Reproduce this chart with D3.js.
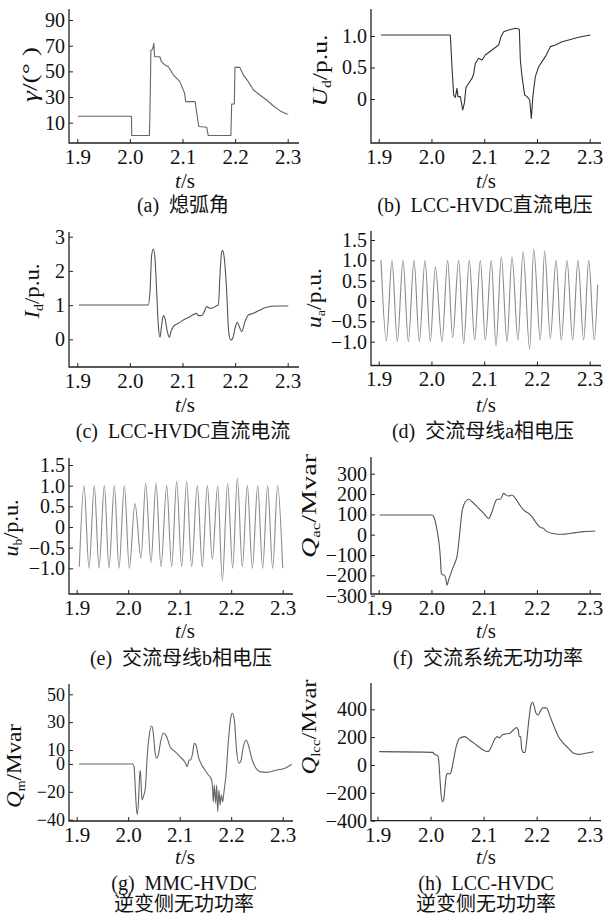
<!DOCTYPE html>
<html>
<head>
<meta charset="utf-8">
<script src="https://cdn.jsdelivr.net/npm/d3@7"></script>
<style>
  body { margin: 0; background: #fff; }
  svg { display: block; }
  text { font-family: "Liberation Serif", "Noto Sans CJK SC", serif; fill: #111; }
</style>
</head>
<body>
<svg id="chart" width="604" height="920"></svg>
<script>
'use strict';

var xTicks = [1.9, 2.0, 2.1, 2.2, 2.3];

// (a) extinction angle
var gammaT = [1.901, 2.003, 2.0035, 2.037, 2.038, 2.040, 2.043, 2.0455, 2.047, 2.057, 2.060, 2.067, 2.073, 2.083, 2.095, 2.104, 2.106, 2.124, 2.131, 2.146, 2.149, 2.192, 2.1935, 2.1985, 2.1998, 2.209, 2.216, 2.225, 2.235, 2.247, 2.260, 2.273, 2.285, 2.298, 2.301];
var gammaV = [15, 15, 0, 0, 15, 66.6, 67, 71.8, 61.4, 61.4, 57.5, 54.9, 53.6, 47.1, 42, 33, 26.4, 26.4, 7, 6.5, 0, 0, 24.6, 24.6, 53.1, 53.1, 47, 42, 35.5, 31.6, 27.7, 23, 19.4, 16.8, 16.8];
var gammaTicks = [10, 30, 50, 70, 90];

// (b) LCC dc voltage
var udT = [1.9044, 2.0358, 2.0389, 2.0421, 2.0452, 2.0484, 2.0503, 2.0548, 2.0592, 2.0623, 2.0655, 2.0706, 2.0769, 2.0800, 2.0832, 2.0895, 2.0958, 2.1021, 2.1148, 2.1274, 2.1318, 2.1369, 2.1464, 2.1590, 2.1666, 2.1685, 2.1717, 2.1767, 2.1812, 2.1862, 2.1893, 2.1925, 2.1969, 2.2033, 2.2096, 2.2159, 2.2254, 2.2349, 2.2475, 2.2601, 2.2791, 2.3012];
var udV = [1.016, 1.016, 0.513, 0.063, 0.026, 0.169, 0.037, 0.037, -0.175, -0.069, 0.185, 0.249, 0.328, 0.397, 0.566, 0.646, 0.619, 0.698, 0.778, 0.857, 0.989, 1.069, 1.095, 1.122, 1.106, 0.619, 0.354, 0.063, 0.037, -0.016, -0.307, 0.063, 0.354, 0.513, 0.593, 0.672, 0.831, 0.857, 0.910, 0.937, 0.979, 1.016];
var udTicks = [0, 0.5, 1.0];

// (c) LCC dc current
var idT = [1.9032, 2.0350, 2.0382, 2.0414, 2.0446, 2.0477, 2.0509, 2.0540, 2.0572, 2.0604, 2.0636, 2.0667, 2.0712, 2.0750, 2.0781, 2.0826, 2.0857, 2.0921, 2.1016, 2.1143, 2.1269, 2.1301, 2.1364, 2.1409, 2.1459, 2.1523, 2.1586, 2.1650, 2.1681, 2.1713, 2.1745, 2.1764, 2.1795, 2.1840, 2.1878, 2.1916, 2.1954, 2.1998, 2.2042, 2.2080, 2.2125, 2.2188, 2.2252, 2.2347, 2.2473, 2.2600, 2.2790, 2.3012];
var idV = [1.003, 1.003, 1.393, 2.465, 2.640, 2.368, 1.393, 0.418, 0.058, 0.418, 0.691, 0.613, 0.223, 0.058, 0.223, 0.369, 0.418, 0.467, 0.564, 0.662, 0.759, 0.691, 0.691, 0.789, 0.954, 0.906, 0.925, 0.983, 1.003, 1.880, 2.562, 2.592, 2.368, 1.393, 0.223, -0.02, 0.028, 0.321, 0.496, 0.369, 0.223, 0.515, 0.711, 0.759, 0.857, 0.935, 0.974, 0.974];
var idTicks = [0, 1, 2, 3];

// (d) ac bus phase a voltage, peaks and troughs
var uaT = [1.9044, 1.9145, 1.9252, 1.9353, 1.9461, 1.9562, 1.9669, 1.9770, 1.9878, 1.9979, 2.0074, 2.0200, 2.0307, 2.0402, 2.0516, 2.0611, 2.0718, 2.0819, 2.0927, 2.1021, 2.1135, 2.1224, 2.1325, 2.1432, 2.1527, 2.1641, 2.1736, 2.1862, 2.1938, 2.2064, 2.2146, 2.2254, 2.2361, 2.2462, 2.2570, 2.2677, 2.2778, 2.2886, 2.2981, 2.3088, 2.3151];
var uaV = [1.0, -0.98, 1.0, -1.0, 1.0, -1.0, 1.0, -1.0, 1.0, -1.0, 0.84, -1.0, 1.0, -0.90, 1.0, -1.04, 1.0, -0.96, 1.0, -0.96, 1.0, -1.10, 1.09, -1.0, 1.09, -0.96, 1.21, -1.18, 1.28, -0.96, 1.23, -0.92, 1.0, -0.96, 1.0, -0.96, 1.0, -0.96, 1.0, -0.96, 0.4];
var uTicks = [-1.0, -0.5, 0, 0.5, 1.0, 1.5];

// (e) ac bus phase b voltage
var ubT = [1.9051, 1.9142, 1.9239, 1.9342, 1.9433, 1.9537, 1.9627, 1.9731, 1.9821, 1.9925, 2.0022, 2.0132, 2.0249, 2.0339, 2.0443, 2.0540, 2.0637, 2.0747, 2.0844, 2.0941, 2.1038, 2.1135, 2.1232, 2.1342, 2.1439, 2.1536, 2.1634, 2.1737, 2.1828, 2.1931, 2.2029, 2.2119, 2.2216, 2.2313, 2.2410, 2.2514, 2.2611, 2.2708, 2.2805, 2.2902, 2.3000];
var ubV = [-0.96, 1.0, -1.0, 1.0, -1.0, 1.0, -1.0, 1.0, -1.0, 1.0, -1.0, 0.57, -0.76, 1.06, -0.86, 1.06, -0.96, 1.0, -0.96, 1.10, -0.96, 1.10, -0.96, 1.0, -0.96, 1.0, -0.78, 0.99, -1.30, 1.06, -1.0, 1.18, -0.96, 1.0, -1.0, 1.0, -1.0, 1.0, -1.0, 1.0, -1.0];

// (f) ac system reactive power
var qacT = [1.9018, 2.0010, 2.0042, 2.0074, 2.0105, 2.0137, 2.0168, 2.0187, 2.0213, 2.0244, 2.0276, 2.0295, 2.0326, 2.0390, 2.0453, 2.0484, 2.0516, 2.0548, 2.0579, 2.0642, 2.0706, 2.0769, 2.0864, 2.0990, 2.1085, 2.1148, 2.1211, 2.1243, 2.1306, 2.1369, 2.1413, 2.1464, 2.1527, 2.1590, 2.1654, 2.1748, 2.1843, 2.1906, 2.1970, 2.2064, 2.2127, 2.2191, 2.2285, 2.2412, 2.2538, 2.2728, 2.2886, 2.3107];
var qacV = [96.7, 96.7, 88.5, 63.9, 23, -26, -108, -190, -198, -198, -223, -248, -223, -174, -133, -108, -43, 39, 113, 162, 174, 162, 138, 105, 80, 113, 162, 174, 174, 203, 195, 190, 195, 179, 154, 121, 105, 88.5, 63.9, 36, 31, 15, 7, 2, 3, 10, 15, 18];
var qacTicks = [-300, -200, -100, 0, 100, 200, 300];

// (g) MMC inverter reactive power
var qmT = [1.9045, 2.0087, 2.0113, 2.0132, 2.0151, 2.0177, 2.0203, 2.0223, 2.0236, 2.0249, 2.0268, 2.0294, 2.0333, 2.0371, 2.0410, 2.0456, 2.0488, 2.0520, 2.0553, 2.0585, 2.0630, 2.0682, 2.0747, 2.0812, 2.0909, 2.1006, 2.1103, 2.1148, 2.1181, 2.1213, 2.1245, 2.1284, 2.1317, 2.1362, 2.1427, 2.1491, 2.1556, 2.1608, 2.1634, 2.1653, 2.1672, 2.1698, 2.1718, 2.1737, 2.1763, 2.1783, 2.1808, 2.1834, 2.1860, 2.1899, 2.1944, 2.1990, 2.2022, 2.2061, 2.2106, 2.2151, 2.2184, 2.2236, 2.2287, 2.2333, 2.2397, 2.2462, 2.2559, 2.2689, 2.2883, 2.3045, 2.3174];
var qmV = [0, 0, -1.9, -12.7, -27.3, -36.4, -24.6, -7.9, -4.8, -12.7, -25.8, -23.4, -17.5, 6.5, 20.8, 27.3, 22, 8.9, 4.1, 6.5, 16, 22, 19.6, 12.4, 8.9, 5.3, 1.2, -1.9, 2.9, 2.9, 6.5, 14.8, 13.6, 5.3, -0.7, -4.3, -7.9, -10.3, -15.1, -27.3, -15.1, -28.2, -15.1, -34.2, -18.7, -29.4, -22.2, -27.3, -19.9, -7.9, 16, 32.8, 36.4, 31.6, 8.9, 0.5, 1.7, 12.4, 17.2, 13.6, 4.1, -1.9, -5.5, -6, -4.3, -3.1, -0.2];
var qmTicks = [-40, -20, 0, 10, 30, 50];

// (h) LCC inverter reactive power
var qlT = [1.9031, 2.0042, 2.0074, 2.0105, 2.0137, 2.0156, 2.0181, 2.0200, 2.0225, 2.0251, 2.0276, 2.0301, 2.0326, 2.0364, 2.0390, 2.0427, 2.0484, 2.0548, 2.0642, 2.0737, 2.0864, 2.0990, 2.1085, 2.1148, 2.1211, 2.1256, 2.1306, 2.1351, 2.1413, 2.1495, 2.1559, 2.1622, 2.1653, 2.1672, 2.1698, 2.1717, 2.1748, 2.1780, 2.1811, 2.1843, 2.1893, 2.1925, 2.1956, 2.1988, 2.2032, 2.2064, 2.2127, 2.2191, 2.2254, 2.2317, 2.2412, 2.2507, 2.2601, 2.2696, 2.2791, 2.2917, 2.3075];
var qlV = [95.8, 91, 76.6, 71.9, 67, 24, -120, -215.6, -263.5, -239.5, -143.7, -71.9, -59.9, -64.7, -47.9, 24, 131.7, 191.6, 203.6, 179.6, 143.7, 107.8, 95.8, 131.7, 186.8, 203.6, 196.4, 215.6, 222.8, 227.5, 251.5, 268.3, 251.5, 203.6, 203.6, 119.8, 91, 91, 167.7, 287.4, 431.1, 450.3, 419.2, 371.3, 359.3, 383.2, 412, 407.2, 347.3, 287.4, 203.6, 155.7, 119.8, 83.8, 76.6, 83.8, 95.8];
var qlTicks = [-400, -200, 0, 200, 400];

var fmtDec = function(d){ return d === 0 ? '0' : d3.format('.1f')(d); };
var fmtInt = d3.format('d');

var svg = d3.select('#chart');

var panels = [
  {t:gammaT, v:gammaV, ticks:gammaTicks, fmt:fmtInt, curve:d3.curveLinear, color:'#666',
   left:69, right:299, top:9, bottom:143, x0:77.3, x1:287.7, ya:[10,122.7], yb:[90,20],
   label:[{s:'γ',i:true},{s:'/(° )'}], lx:30, ly:74.5, llen:55, xl:[185,188],
   cap:['(a)  熄弧角'], cx:183, cy:[212]},
  {t:udT, v:udV, ticks:udTicks, fmt:fmtDec, curve:d3.curveLinear, color:'#333',
   left:371, right:601, top:9, bottom:143, x0:378.7, x1:589.7, ya:[0,99], yb:[1,36],
   label:[{s:'U',i:true},{s:'d',sub:true},{s:'/p.u.'}], lx:320, ly:70.5, llen:72, xl:[486,188],
   cap:['(b)  LCC-HVDC直流电压'], cx:485, cy:[212]},
  {t:idT, v:idV, ticks:idTicks, fmt:fmtInt, curve:d3.curveMonotoneX, color:'#555',
   left:69, right:299, top:232, bottom:367, x0:77.3, x1:287.7, ya:[0,339.3], yb:[3,236.7],
   label:[{s:'I',i:true},{s:'d',sub:true},{s:'/p.u.'}], lx:32, ly:291, llen:55, xl:[185,412],
   cap:['(c)  LCC-HVDC直流电流'], cx:183, cy:[438]},
  {t:uaT, v:uaV, ticks:uTicks, fmt:fmtDec, curve:d3.curveMonotoneX, color:'#8a8a8a',
   left:371, right:601, top:231, bottom:365.5, x0:378.7, x1:589.7, ya:[-1,341.7], yb:[1.5,240],
   label:[{s:'u',i:true},{s:'a',sub:true},{s:'/p.u.'}], lx:314, ly:298, llen:60, xl:[486,412],
   cap:['(d)  交流母线a相电压'], cx:483, cy:[438]},
  {t:ubT, v:ubV, ticks:uTicks, fmt:fmtDec, curve:d3.curveMonotoneX, color:'#8a8a8a',
   left:69, right:293, top:458, bottom:594, x0:76.7, x1:282.7, ya:[-1,568.3], yb:[1.5,465],
   label:[{s:'u',i:true},{s:'b',sub:true},{s:'/p.u.'}], lx:11, ly:528, llen:57, xl:[185,638],
   cap:['(e)  交流母线b相电压'], cx:181, cy:[665]},
  {t:qacT, v:qacV, ticks:qacTicks, fmt:fmtInt, curve:d3.curveMonotoneX, color:'#555',
   left:371, right:601, top:457, bottom:594, x0:378.7, x1:589.7, ya:[0,534.7], yb:[300,473.7],
   label:[{s:'Q',i:true},{s:'ac',sub:true},{s:'/Mvar'}], lx:309, ly:506, llen:104, xl:[486,638],
   cap:['(f)  交流系统无功功率'], cx:488, cy:[665]},
  {t:qmT, v:qmV, ticks:qmTicks, fmt:fmtInt, curve:d3.curveMonotoneX, color:'#666',
   left:69, right:293, top:684, bottom:821, x0:76.7, x1:282.7, ya:[-40,819.7], yb:[50,694.3],
   label:[{s:'Q',i:true},{s:'m',sub:true},{s:'/Mvar'}], lx:14, ly:766, llen:84, xl:[185,864],
   cap:['(g)  MMC-HVDC', '逆变侧无功功率'], cx:184, cy:[890, 911], tickSize:'18px'},
  {t:qlT, v:qlV, ticks:qlTicks, fmt:fmtInt, curve:d3.curveMonotoneX, color:'#555',
   left:371, right:601, top:683, bottom:820.7, x0:377.5, x1:589.7, ya:[-400,820.7], yb:[400,709.3],
   label:[{s:'Q',i:true},{s:'lcc',sub:true},{s:'/Mvar'}], lx:309, ly:727, llen:95, xl:[486,864],
   cap:['(h)  LCC-HVDC', '逆变侧无功功率'], cx:486, cy:[890, 911]}
];

function drawPanel(p){
  var g = svg.append('g');
  var x = d3.scaleLinear().domain([1.9, 2.3]).range([p.x0, p.x1]);
  var y = d3.scaleLinear().domain([p.ya[0], p.yb[0]]).range([p.ya[1], p.yb[1]]);

  var line = d3.line()
    .x(function(d, i){ return x(p.t[i]); })
    .y(function(d){ return y(d); })
    .curve(p.curve);

  g.append('path')
    .attr('d', line(p.v))
    .attr('fill', 'none')
    .attr('stroke', p.color)
    .attr('stroke-width', 1.1)
    .attr('stroke-linejoin', 'round');

  var xa = g.append('g')
    .attr('transform', 'translate(0,' + p.bottom + ')')
    .call(d3.axisBottom(x).tickValues(xTicks).tickFormat(d3.format('.1f'))
      .tickSizeInner(-4).tickSizeOuter(0).tickPadding(6));
  var ya = g.append('g')
    .attr('transform', 'translate(' + p.left + ',0)')
    .call(d3.axisLeft(y).tickValues(p.ticks).tickFormat(p.fmt)
      .tickSizeInner(-4).tickSizeOuter(0).tickPadding(4));

  [xa, ya].forEach(function(a, k){
    a.select('.domain').remove();
    a.attr('font-family', null).attr('font-size', null);
    a.selectAll('line').attr('stroke', '#222').attr('stroke-width', 1);
    a.selectAll('text')
      .style('font-size', k === 0 ? '21px' : (p.tickSize || '20px'))
      .attr('fill', '#111');
  });

  g.append('path')
    .attr('d', 'M' + p.left + ',' + p.top + 'V' + p.bottom + 'H' + p.right)
    .attr('fill', 'none')
    .attr('stroke', '#222')
    .attr('stroke-width', 1.3);

  var lab = g.append('text')
    .attr('transform', 'translate(' + p.lx + ',' + p.ly + ') rotate(-90)')
    .attr('text-anchor', 'middle')
    .attr('dy', '0.35em')
    .attr('textLength', p.llen)
    .attr('lengthAdjust', 'spacingAndGlyphs')
    .style('font-size', '20px');
  p.label.forEach(function(part, k){
    var ts = lab.append('tspan').text(part.s);
    if (part.i) ts.style('font-style', 'italic');
    if (part.sub) ts.attr('dy', 4).style('font-size', '12px');
    else if (k > 0 && p.label[k-1].sub) ts.attr('dy', -4);
  });

  var xl = g.append('text')
    .attr('x', p.xl[0]).attr('y', p.xl[1])
    .attr('text-anchor', 'middle')
    .style('font-size', '21px');
  xl.append('tspan').style('font-style', 'italic').text('t');
  xl.append('tspan').text('/s');

  p.cap.forEach(function(c, k){
    g.append('text')
      .attr('x', p.cx).attr('y', p.cy[k])
      .attr('text-anchor', 'middle')
      .style('font-size', '20px')
      .style('white-space', 'pre')
      .text(c);
  });
}

panels.forEach(drawPanel);
</script>
</body>
</html>
